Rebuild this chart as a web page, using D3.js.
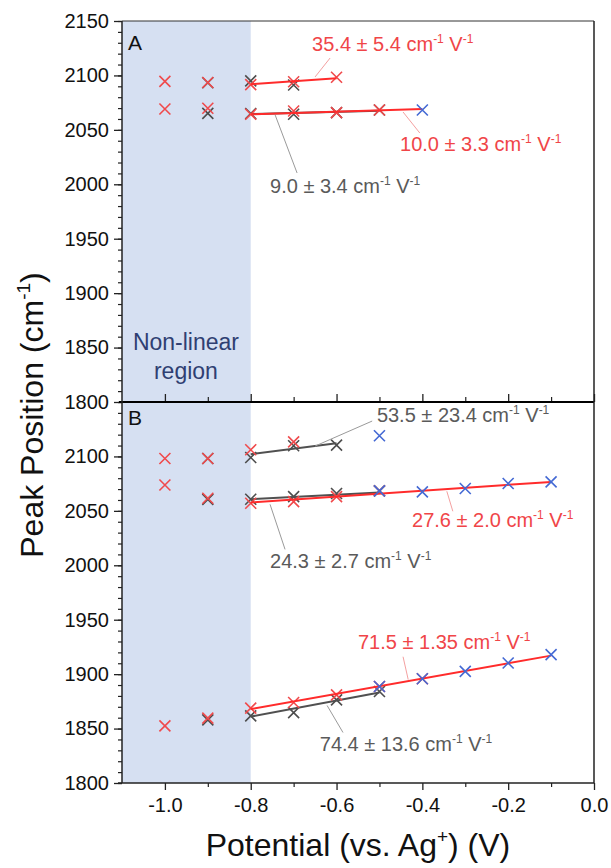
<!DOCTYPE html>
<html><head><meta charset="utf-8">
<script src="https://cdn.jsdelivr.net/npm/d3@7"></script>
<style>
body{margin:0;background:#fff}
svg{display:block}
text{font-family:"Liberation Sans",Arial,Helvetica,sans-serif}
</style>
</head><body>
<svg id="c" width="611" height="868"></svg>
<script>
// ---------- data ----------
const xMajorTicks = [-1.0, -0.8, -0.6, -0.4, -0.2, 0.0];
const xMinorTicks = [-0.9, -0.7, -0.5, -0.3, -0.1];
const yTicksA = [2150, 2100, 2050, 2000, 1950, 1900, 1850, 1800];
const yTicksB = [2100, 2050, 2000, 1950, 1900, 1850, 1800];
const nonLinearRange = [-1.1, -0.8];

// Panel A  [potential V, peak cm-1]
const aDark = [[-0.9,2093.3],[-0.8,2095.0],[-0.7,2091.2],
               [-0.9,2065.2],[-0.8,2065.0],[-0.7,2064.3],[-0.6,2065.8],[-0.5,2068.2]];
const aRed  = [[-1.0,2094.5],[-0.9,2093.5],[-0.8,2091.5],[-0.7,2094.2],[-0.6,2098.3],
               [-1.0,2069.2],[-0.9,2069.8],[-0.8,2064.3],[-0.7,2067.3],[-0.6,2065.8],[-0.5,2068.2]];
const aBlue = [[-0.4,2068.2]];
const aFitDark = [[[-0.8,2064.6],[-0.5,2067.6]]];
const aFitRed  = [[[-0.8,2091.8],[-0.6,2097.5]], [[-0.8,2064.3],[-0.4,2069.2]]];

// Panel B
const bDark = [[-0.9,2098.1],[-0.8,2099.0],[-0.7,2109.8],[-0.6,2110.4],
               [-0.9,2060.5],[-0.8,2060.7],[-0.7,2063.1],[-0.6,2065.9],[-0.5,2068.3],
               [-0.9,1858.0],[-0.8,1861.7],[-0.7,1864.7],[-0.6,1876.4],[-0.5,1884.1]];
const bRed  = [[-1.0,2098.1],[-0.9,2098.1],[-0.8,2106.1],[-0.7,2113.4],
               [-1.0,2073.8],[-0.9,2061.6],[-0.8,2057.0],[-0.7,2058.5],[-0.6,2063.1],[-0.5,2068.3],
               [-1.0,1852.5],[-0.9,1859.6],[-0.8,1868.8],[-0.7,1874.0],[-0.6,1881.0],[-0.5,1888.7],[-0.4,1895.8]];
const bBlue = [[-0.5,2119.0],
               [-0.5,2068.3],[-0.4,2067.4],[-0.3,2070.5],[-0.2,2075.1],[-0.1,2076.6],
               [-0.5,1888.7],[-0.4,1895.8],[-0.3,1902.5],[-0.2,1910.2],[-0.1,1917.9]];
const bFitDark = [[[-0.8,2102.1],[-0.6,2112.0]], [[-0.8,2060.7],[-0.5,2066.8]], [[-0.8,1861.0],[-0.5,1883.1]]];
const bFitRed  = [[[-0.8,2057.6],[-0.1,2076.6]], [[-0.8,1867.9],[-0.1,1917.0]]];

// annotations: value text, text anchor (data), leader from/to (data)
const aNotes = [
  {t:"35.4 \u00b1 5.4", c:"red",  at:[-0.657,2122.4], l:[[-0.615,2116.0],[-0.650,2098.6]]},
  {t:"10.0 \u00b1 3.3", c:"red",  at:[-0.452,2030.6], l:[[-0.445,2066.4],[-0.406,2047.1]]},
  {t:"9.0 \u00b1 3.4",  c:"gray", at:[-0.755,1992.0], l:[[-0.743,2063.6],[-0.692,2010.4]]}
];
const bNotes = [
  {t:"53.5 \u00b1 23.4", c:"gray", at:[-0.506,2131.6], l:[[-0.517,2132.5],[-0.650,2109.5]]},
  {t:"27.6 \u00b1 2.0",  c:"red",  at:[-0.424,2034.9], l:[[-0.343,2068.0],[-0.329,2049.6]]},
  {t:"24.3 \u00b1 2.7",  c:"gray", at:[-0.755,1997.5], l:[[-0.755,2056.0],[-0.720,2014.6]]},
  {t:"71.5 \u00b1 1.35", c:"red",  at:[-0.550,1923.4], l:[[-0.445,1916.0],[-0.433,1895.0]]},
  {t:"74.4 \u00b1 13.6", c:"gray", at:[-0.639,1829.5], l:[[-0.622,1871.2],[-0.585,1846.4]]}
];

// ---------- drawing ----------
const COL = {
  red:"#f04a4c", redLine:"#ff2b2b", redNote:"#f04548", redLeader:"#f4a0a0",
  dark:"#4d4d4d", darkLine:"#505050", grayNote:"#5a5a5a", grayLeader:"#9a9a9a",
  blue:"#4469d4", shade:"#d6e0f2"
};
const svg = d3.select("#c");
const L = 122, R = 594, TOP = 21, MID = 402, BOT = 783;
const x = d3.scaleLinear().domain([-1.1, 0]).range([L, R]);
const yA = d3.scaleLinear().domain([1800, 2150]).range([MID, TOP]);
const yB = d3.scaleLinear().domain([1800, 2150]).range([BOT, MID]);

// shaded non-linear region
svg.append("rect")
  .attr("x", x(nonLinearRange[0])).attr("y", TOP)
  .attr("width", x(nonLinearRange[1]) - x(nonLinearRange[0]))
  .attr("height", BOT - TOP).attr("fill", COL.shade);

svg.append("text").attr("text-anchor","middle").attr("fill","#2f3f72")
  .attr("font-size", 23)
  .selectAll("tspan").data(["Non-linear","region"]).join("tspan")
  .attr("x", x(-0.951)).attr("y", (d,i)=> yA(i===0?1847.8:1821.1)).text(d=>d);

function xMark(g, pts, y, color){
  const s = 5.5;
  g.selectAll(null).data(pts).join("path")
    .attr("d", d => {const cx=x(d[0]), cy=y(d[1]);
      return `M${cx-s},${cy-s}L${cx+s},${cy+s}M${cx-s},${cy+s}L${cx+s},${cy-s}`;})
    .attr("stroke", color).attr("stroke-width", 1.6).attr("fill","none");
}
function fits(g, segs, y, color){
  g.selectAll(null).data(segs).join("line")
    .attr("x1", d=>x(d[0][0])).attr("y1", d=>y(d[0][1]))
    .attr("x2", d=>x(d[1][0])).attr("y2", d=>y(d[1][1]))
    .attr("stroke", color).attr("stroke-width", 2);
}
function notes(g, arr, y){
  arr.forEach(n=>{
    g.append("line")
      .attr("x1", x(n.l[0][0])).attr("y1", y(n.l[0][1]))
      .attr("x2", x(n.l[1][0])).attr("y2", y(n.l[1][1]))
      .attr("stroke", n.c==="red"?COL.redLeader:COL.grayLeader).attr("stroke-width",1);
    const t = g.append("text").attr("x", x(n.at[0])).attr("y", y(n.at[1]))
      .attr("font-size", 20).attr("fill", n.c==="red"?COL.redNote:COL.grayNote);
    t.append("tspan").text(n.t + " cm");
    t.append("tspan").attr("font-size", 12).attr("dy", -8).text("-1");
    t.append("tspan").attr("dy", 8).text(" V");
    t.append("tspan").attr("font-size", 12).attr("dy", -8).text("-1");
  });
}

function panel(y, dark, red, blue, fDark, fRed, nts){
  const g = svg.append("g");
  xMark(g, dark, y, COL.dark);
  fits(g, fDark, y, COL.darkLine);
  xMark(g, red, y, COL.red);
  fits(g, fRed, y, COL.redLine);
  xMark(g, blue, y, COL.blue);
  notes(g, nts, y);
}
panel(yA, aDark, aRed, aBlue, aFitDark, aFitRed, aNotes);
panel(yB, bDark, bRed, bBlue, bFitDark, bFitRed, bNotes);

// axes
const minorY = d3.range(1800, 2151, 10);
function yAxis(y, ticks){
  svg.append("g").attr("transform",`translate(${L},0)`)
    .call(d3.axisLeft(y).tickValues(minorY).tickSize(4).tickFormat(""))
    .call(g=>g.select(".domain").remove())
    .call(g=>g.selectAll("line").attr("stroke","#222").attr("stroke-width",1.2));
  svg.append("g").attr("transform",`translate(${L},0)`)
    .call(d3.axisLeft(y).tickValues(ticks).tickSize(8).tickPadding(5).tickFormat(d3.format("d")))
    .call(g=>g.select(".domain").remove())
    .call(g=>g.selectAll("line").attr("stroke","#222").attr("stroke-width",1.3))
    .call(g=>g.selectAll("text").attr("font-size",20).attr("fill","#111")
      .attr("font-family",'"Liberation Sans",Arial,sans-serif'));
}
yAxis(yA, yTicksA);
yAxis(yB, yTicksB);

// bottom x axis
svg.append("g").attr("transform",`translate(0,${BOT})`)
  .call(d3.axisBottom(x).tickValues(xMinorTicks).tickSize(4).tickFormat(""))
  .call(g=>g.select(".domain").remove())
  .call(g=>g.selectAll("line").attr("stroke","#222").attr("stroke-width",1.2));
svg.append("g").attr("transform",`translate(0,${BOT})`)
  .call(d3.axisBottom(x).tickValues(xMajorTicks).tickSize(7).tickPadding(8).tickFormat(d=>d.toFixed(1)))
  .call(g=>g.select(".domain").remove())
  .call(g=>g.selectAll("line").attr("stroke","#222").attr("stroke-width",1.3))
  .call(g=>g.selectAll("text").attr("font-size",20).attr("fill","#111")
    .attr("font-family",'"Liberation Sans",Arial,sans-serif'));

// panel A bottom axis (ticks pointing up)
svg.append("g").attr("transform",`translate(0,${MID})`)
  .call(d3.axisTop(x).tickValues(xMinorTicks).tickSize(5).tickFormat(""))
  .call(g=>g.select(".domain").remove())
  .call(g=>g.selectAll("line").attr("stroke","#222").attr("stroke-width",1.2));
svg.append("g").attr("transform",`translate(0,${MID})`)
  .call(d3.axisTop(x).tickValues(xMajorTicks).tickSize(8).tickFormat(""))
  .call(g=>g.select(".domain").remove())
  .call(g=>g.selectAll("line").attr("stroke","#222").attr("stroke-width",1.3));

// frame
svg.append("line").attr("x1",L).attr("x2",R).attr("y1",TOP).attr("y2",TOP).attr("stroke","#333").attr("stroke-width",1);
svg.append("line").attr("x1",L-3).attr("x2",R).attr("y1",MID).attr("y2",MID).attr("stroke","#000").attr("stroke-width",2);
svg.append("line").attr("x1",L-4).attr("x2",R).attr("y1",BOT).attr("y2",BOT).attr("stroke","#222").attr("stroke-width",1.5);
svg.append("line").attr("x1",L).attr("x2",L).attr("y1",TOP).attr("y2",BOT).attr("stroke","#222").attr("stroke-width",1.5);
svg.append("line").attr("x1",R).attr("x2",R).attr("y1",TOP).attr("y2",BOT).attr("stroke","#222").attr("stroke-width",1.5);

// panel letters
svg.append("text").attr("x", x(-1.086)).attr("y", yA(2123.4)).attr("font-size",21).attr("fill","#111").text("A");
svg.append("text").attr("x", x(-1.086)).attr("y", yB(2129)).attr("font-size",21).attr("fill","#111").text("B");

// axis titles
const xt = svg.append("text").attr("x", 358).attr("y", 856).attr("text-anchor","middle")
  .attr("font-size", 32).attr("fill","#111");
xt.append("tspan").text("Potential (vs. Ag");
xt.append("tspan").attr("font-size",19).attr("dy",-13).text("+");
xt.append("tspan").attr("dy",13).text(") (V)");

const yt = svg.append("text").attr("transform","translate(43,415) rotate(-90)")
  .attr("text-anchor","middle").attr("font-size", 32).attr("fill","#111");
yt.append("tspan").text("Peak Position (cm");
yt.append("tspan").attr("font-size",19).attr("dy",-13).text("-1");
yt.append("tspan").attr("dy",13).text(")");
</script>
</body></html>
